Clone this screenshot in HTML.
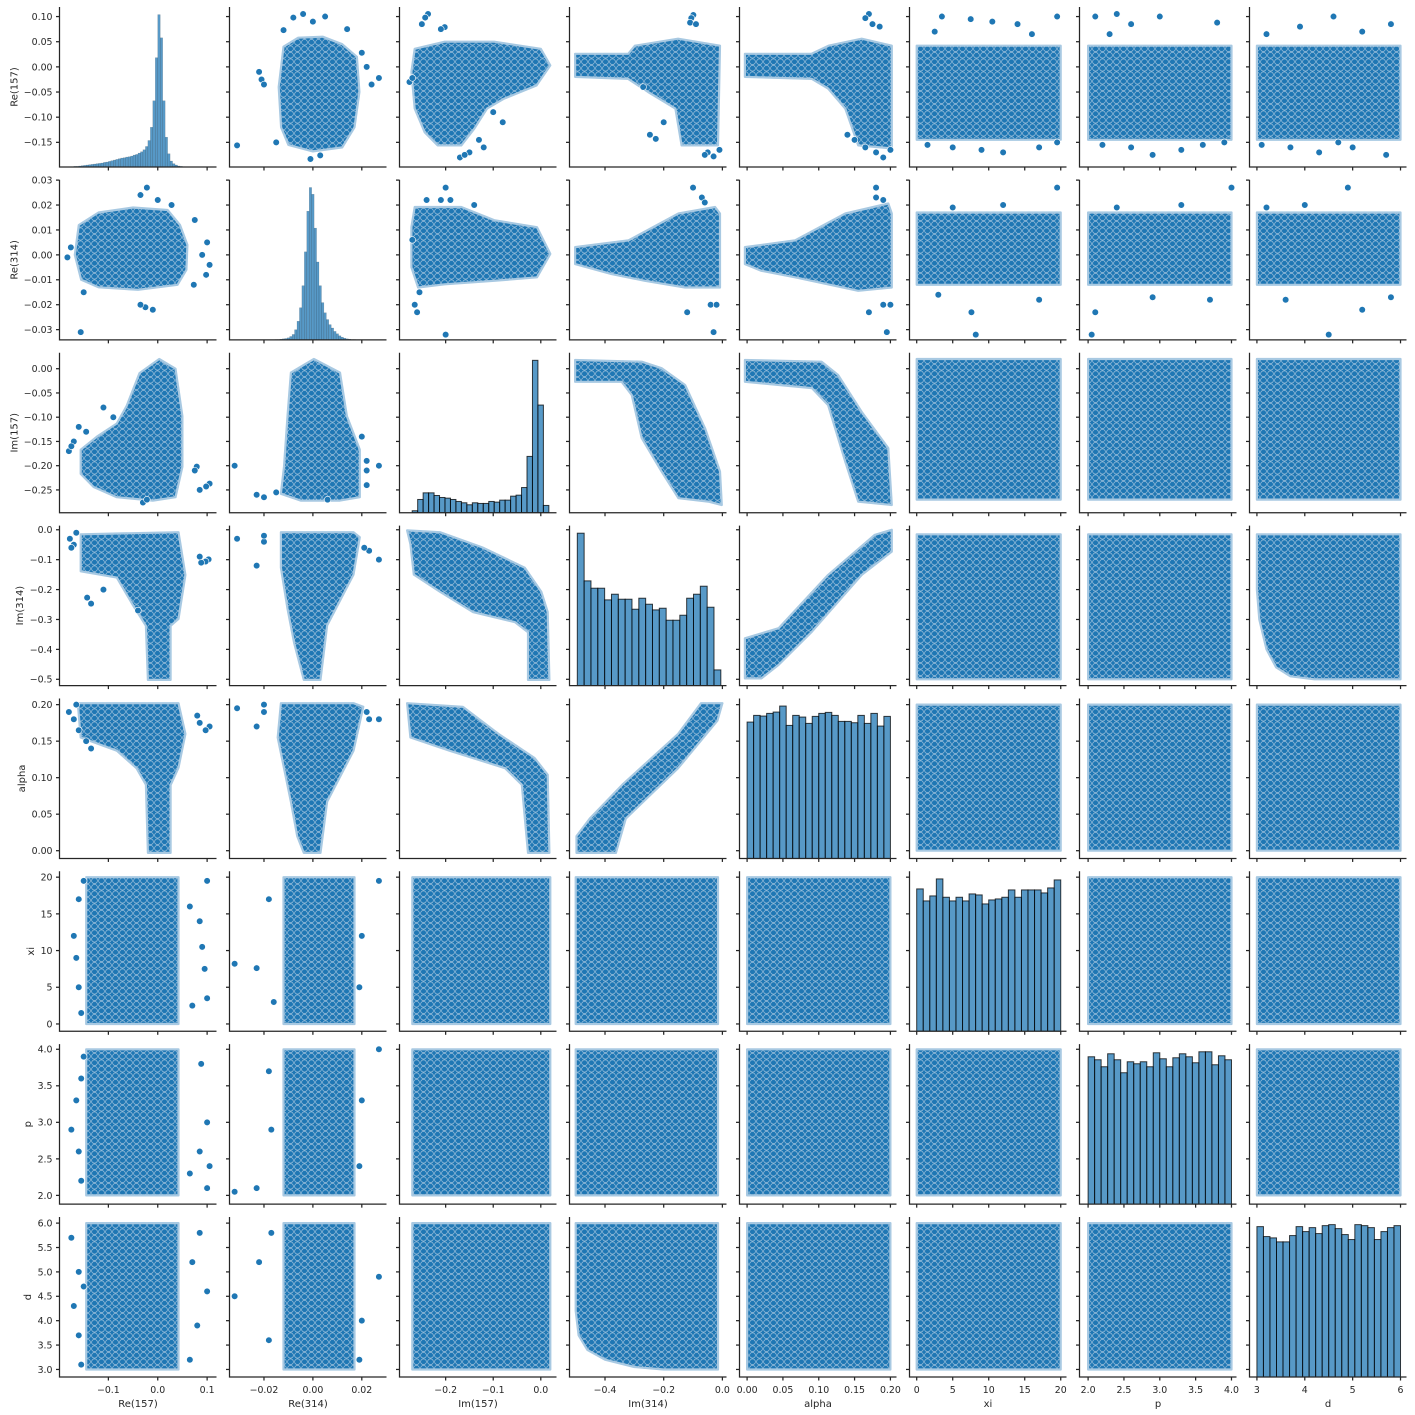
<!DOCTYPE html>
<html><head><meta charset="utf-8"><style>
html,body{margin:0;padding:0;background:#fff}
svg{display:block;font-family:"DejaVu Sans","Liberation Sans",sans-serif}
</style></head><body>
<svg id="fig" xmlns="http://www.w3.org/2000/svg" width="1415" height="1415" viewBox="0 0 1415 1415">
<defs>
<pattern id="dots" width="7" height="6.5" patternUnits="userSpaceOnUse">
<rect width="7" height="6.5" fill="#1f77b4"/>
<circle cx="3.5" cy="3.25" r="2.9" fill="#1f77b4" stroke="#9cc0dc" stroke-width="0.7"/>
</pattern>
</defs>
</svg>
<script>
// ---- data ----
const varNames = ['Re(157)','Re(314)','Im(157)','Im(314)','alpha','xi','p','d'];
const lims = [[-0.199,0.119],[-0.0341,0.0301],[-0.297,0.033],[-0.521,0.014],[-0.0106,0.2085],[-1.0,20.8],[1.88,4.07],[2.845,6.125]];
const bulk = [[-0.145,0.042],[-0.012,0.017],[-0.27,0.02],[-0.5,-0.015],[0,0.2],[0,20],[2,4],[3,6]];
const yTickVals = [[-0.15,-0.1,-0.05,0,0.05,0.1],[-0.03,-0.02,-0.01,0,0.01,0.02,0.03],[-0.25,-0.2,-0.15,-0.1,-0.05,0],[-0.5,-0.4,-0.3,-0.2,-0.1,0],[0,0.05,0.1,0.15,0.2],[0,5,10,15,20],[2,2.5,3,3.5,4],[3,3.5,4,4.5,5,5.5,6]];
const yTickLabels = [['−0.15','−0.10','−0.05','0.00','0.05','0.10'],['−0.03','−0.02','−0.01','0.00','0.01','0.02','0.03'],['−0.25','−0.20','−0.15','−0.10','−0.05','0.00'],['−0.5','−0.4','−0.3','−0.2','−0.1','0.0'],['0.00','0.05','0.10','0.15','0.20'],['0','5','10','15','20'],['2.0','2.5','3.0','3.5','4.0'],['3.0','3.5','4.0','4.5','5.0','5.5','6.0']];
const xTickVals = [[-0.1,0,0.1],[-0.02,0,0.02],[-0.2,-0.1,0],[-0.4,-0.2,0],[0,0.05,0.1,0.15,0.2],[0,5,10,15,20],[2,2.5,3,3.5,4],[3,4,5,6]];
const xTickLabels = [['−0.1','0.0','0.1'],['−0.02','0.00','0.02'],['−0.2','−0.1','0.0'],['−0.4','−0.2','0.0'],['0.00','0.05','0.10','0.15','0.20'],['0','5','10','15','20'],['2.0','2.5','3.0','3.5','4.0'],['3','4','5','6']];

// histogram bins: start, width, counts
const histStart = [-0.19,-0.0155,-0.2703,-0.4944,0,0,2,3];
const histWidth = [0.005,0.001,0.01149,0.02329,0.2/22,20/22,2/22,3/22];
const countsRe157 = [0,0,1,1,2,2,3,4,5,6,7,8,9,10,11,12,14,15,17,19,21,23,25,27,28,30,31,33,36,38,42,46,52,62,80,120,200,330,460,390,200,90,40,18,10,6,3,2,1,0];
const countsRe314 = [1,1,2,3,4,6,10,16,30,55,95,160,260,380,450,430,330,230,160,110,80,60,45,35,25,18,12,8,5,3,2,1,1];
const countsIm157 = [6,40,60,60,52,46,44,40,34,30,24,30,28,28,34,32,38,38,50,53,76,170,460,325,22];
const countsIm314 = [457,314,292,292,257,274,259,259,229,262,244,227,232,196,196,211,262,274,298,235,47];
const countsAlpha = [409,429,427,435,439,457,399,429,424,405,426,435,438,429,411,411,407,429,405,435,397,426];
const countsXi = [427,391,406,457,402,391,402,391,412,409,382,394,397,402,424,402,424,424,424,415,430,454];
const countsP = [443,434,413,452,434,395,428,422,428,413,455,437,413,440,452,443,425,458,458,419,446,434];
const countsD = [454,424,420,408,408,427,454,439,451,433,457,460,448,430,415,460,457,451,415,439,451,457];
const histCounts = [countsRe157,countsRe314,countsIm157,countsIm314,countsAlpha,countsXi,countsP,countsD];

// scatter envelopes (x = column var, y = row var), keyed by row-col for upper triangle
const env01 = [[-0.012,0.04],[-0.006,0.058],[0.004,0.06],[0.012,0.045],[0.018,0.02],[0.019,-0.05],[0.017,-0.12],[0.012,-0.16],[0.0,-0.168],[-0.01,-0.155],[-0.013,-0.12],[-0.014,-0.04]];
const env02 = [[-0.265,0.036],[-0.202,0.05],[-0.098,0.05],[0.0,0.036],[0.02,0.003],[-0.009,-0.037],[-0.077,-0.063],[-0.113,-0.083],[-0.14,-0.123],[-0.167,-0.156],[-0.217,-0.156],[-0.244,-0.13],[-0.265,-0.083],[-0.272,-0.01]];
const env03 = [[-0.502,0.026],[-0.321,0.026],[-0.298,0.042],[-0.151,0.056],[-0.008,0.042],[-0.015,-0.156],[-0.139,-0.156],[-0.16,-0.083],[-0.253,-0.05],[-0.321,-0.024],[-0.502,-0.02]];
const env04 = [[-0.003,0.026],[0.09,0.026],[0.1136,0.042],[0.16,0.056],[0.202,0.042],[0.202,-0.162],[0.155,-0.156],[0.137,-0.083],[0.113,-0.043],[0.0904,-0.024],[-0.003,-0.02]];
const env12 = [[-0.272,0.0111],[-0.265,0.0192],[-0.167,0.0192],[-0.098,0.0139],[-0.008,0.0111],[0.02,0.0004],[-0.008,-0.009],[-0.098,-0.0104],[-0.202,-0.0118],[-0.258,-0.0131],[-0.272,-0.005]];
const env13 = [[-0.502,0.0031],[-0.32,0.0058],[-0.15,0.0166],[-0.025,0.0192],[-0.008,0.0166],[-0.008,-0.0131],[-0.127,-0.0131],[-0.264,-0.0104],[-0.378,-0.0077],[-0.502,-0.0037]];
const env14 = [[-0.003,0.0031],[0.067,0.0058],[0.137,0.0166],[0.197,0.0206],[0.202,0.0166],[0.202,-0.0131],[0.155,-0.0144],[0.067,-0.009],[0.02,-0.0064],[-0.003,-0.0037]];
const env23 = [[-0.502,0.018],[-0.275,0.0145],[-0.207,0.001],[-0.127,-0.0336],[-0.059,-0.123],[-0.008,-0.212],[-0.002,-0.281],[-0.048,-0.274],[-0.15,-0.267],[-0.207,-0.212],[-0.275,-0.143],[-0.309,-0.054],[-0.343,-0.027],[-0.502,-0.027]];
const env24 = [[-0.003,0.018],[0.104,0.0145],[0.127,-0.013],[0.16,-0.089],[0.197,-0.164],[0.202,-0.281],[0.155,-0.274],[0.137,-0.192],[0.113,-0.075],[0.0904,-0.04],[-0.003,-0.027]];
const env34 = [[-0.003,-0.363],[0.044,-0.329],[0.113,-0.151],[0.178,-0.017],[0.202,0.0],[0.202,-0.073],[0.16,-0.151],[0.0904,-0.341],[0.044,-0.452],[0.02,-0.497],[-0.003,-0.497]];
const env37 = [[3,-0.015],[6,-0.015],[6,-0.5],[4.2,-0.5],[3.7,-0.49],[3.4,-0.46],[3.2,-0.4],[3.05,-0.3],[3,-0.2]];
const envelopes = {'0-1':env01,'0-2':env02,'0-3':env03,'0-4':env04,'1-2':env12,'1-3':env13,'1-4':env14,'2-3':env23,'2-4':env24,'3-4':env34,'3-7':env37};

// outlier points (x = column var, y = row var)
const out01 = [[-0.031,-0.156],[-0.022,-0.01],[-0.021,-0.025],[-0.02,-0.035],[-0.015,-0.15],[0.027,-0.022],[0.024,-0.035],[0.022,0.0],[0.02,0.028],[-0.008,0.098],[-0.004,0.105],[0.005,0.1],[-0.001,-0.183],[0.003,-0.176],[0.014,0.075],[-0.012,0.073],[0.0,0.09]];
const out02 = [[-0.237,0.105],[-0.243,0.098],[-0.25,0.085],[-0.202,0.079],[-0.21,0.075],[-0.276,-0.03],[-0.27,-0.022],[-0.17,-0.18],[-0.15,-0.17],[-0.12,-0.16],[-0.13,-0.145],[-0.16,-0.175],[-0.08,-0.11],[-0.1,-0.09]];
const out03 = [[-0.099,0.103],[-0.106,0.097],[-0.11,0.088],[-0.09,0.085],[-0.247,-0.135],[-0.227,-0.143],[-0.03,-0.178],[-0.05,-0.17],[-0.06,-0.175],[-0.01,-0.165],[-0.2,-0.11],[-0.27,-0.04]];
const out04 = [[0.17,0.105],[0.165,0.097],[0.175,0.085],[0.185,0.08],[0.14,-0.135],[0.15,-0.145],[0.19,-0.18],[0.18,-0.17],[0.2,-0.165],[0.165,-0.16]];
const out05 = [[3.5,0.1],[7.5,0.095],[10.5,0.09],[14,0.085],[19.5,0.1],[1.5,-0.155],[5,-0.16],[9,-0.165],[12,-0.17],[17,-0.16],[19.5,-0.15],[2.5,0.07],[16,0.065]];
const out06 = [[2.1,0.1],[2.4,0.105],[2.6,0.085],[3.0,0.1],[3.8,0.088],[2.2,-0.155],[2.6,-0.16],[2.9,-0.175],[3.6,-0.155],[3.9,-0.15],[3.3,-0.165],[2.3,0.065]];
const out07 = [[3.2,0.065],[3.9,0.08],[4.6,0.1],[5.2,0.07],[5.8,0.085],[3.1,-0.155],[3.7,-0.16],[4.3,-0.17],[5.0,-0.16],[5.7,-0.175],[4.7,-0.15]];
const out12 = [[-0.2,0.027],[-0.21,0.022],[-0.24,0.022],[-0.19,0.022],[-0.14,0.02],[-0.27,0.006],[-0.265,-0.02],[-0.2,-0.032],[-0.26,-0.023],[-0.255,-0.015]];
const out13 = [[-0.1,0.027],[-0.07,0.023],[-0.06,0.021],[-0.12,-0.023],[-0.03,-0.031],[-0.04,-0.02],[-0.02,-0.02]];
const out14 = [[0.18,0.027],[0.18,0.023],[0.19,0.022],[0.17,-0.023],[0.195,-0.031],[0.2,-0.02],[0.19,-0.02]];
const out15 = [[8.2,-0.032],[7.6,-0.023],[19.5,0.027],[12,0.02],[3,-0.016],[17,-0.018],[5,0.019]];
const out16 = [[2.05,-0.032],[2.1,-0.023],[4.0,0.027],[3.3,0.02],[2.9,-0.017],[3.7,-0.018],[2.4,0.019]];
const out17 = [[4.5,-0.032],[5.2,-0.022],[4.9,0.027],[4.0,0.02],[3.6,-0.018],[5.8,-0.017],[3.2,0.019]];
const outliers = {'0-1':out01,'0-2':out02,'0-3':out03,'0-4':out04,'0-5':out05,'0-6':out06,'0-7':out07,'1-2':out12,'1-3':out13,'1-4':out14,'1-5':out15,'1-6':out16,'1-7':out17};

// ---- layout ----
const NS = 'http://www.w3.org/2000/svg';
const svg = document.getElementById('fig');
const W = 157, H = 160;
function colLeft(j){ return 59.5 + j*170; }
function rowTop(i){ return 7 + i*172.86; }
function xScale(j, v){ const l = lims[j]; return colLeft(j) + (v - l[0])/(l[1]-l[0])*W; }
function yScale(i, v){ const l = lims[i]; return rowTop(i) + H - (v - l[0])/(l[1]-l[0])*H; }
function mk(tag, attrs, parent){
  const e = document.createElementNS(NS, tag);
  for (const k in attrs) e.setAttribute(k, attrs[k]);
  (parent||svg).appendChild(e);
  return e;
}
const AX = '#262626';

for (let i = 0; i < 8; i++) {
  for (let j = 0; j < 8; j++) {
    const g = mk('g', {});
    
    
    const cp = mk('clipPath', {id: 'c'+i+'-'+j}, g);
    mk('rect', {x: colLeft(j), y: rowTop(i), width: W, height: H}, cp);
    const plot = mk('g', {'clip-path': 'url(#c'+i+'-'+j+')'}, g);
    if (i === j) {
      const counts = histCounts[i];
      const maxC = Math.max(...counts);
      const thin = counts.length > 30;
      counts.forEach((c, k) => {
        const x0 = xScale(j, histStart[i] + k*histWidth[i]);
        const x1 = xScale(j, histStart[i] + (k+1)*histWidth[i]);
        const h = c/maxC * H/1.05;
        const r = mk('rect', {x: x0, y: rowTop(i)+H-h, width: Math.max(0, x1-x0), height: h,
          fill: 'rgba(31,119,180,0.75)', stroke: thin ? 'rgba(0,0,0,0.25)' : 'rgba(0,0,0,0.75)', 'stroke-width': thin ? 0.4 : 1}, plot);
        
        
      });
    } else {
      const a = Math.min(i,j), b = Math.max(i,j);
      const key = a + '-' + b;
      let pts = envelopes[key];
      if (!pts) pts = [[bulk[b][0],bulk[a][0]],[bulk[b][1],bulk[a][0]],[bulk[b][1],bulk[a][1]],[bulk[b][0],bulk[a][1]]];
      const swap = i > j;
      const pstr = pts.map(p => {
        const xv = swap ? p[1] : p[0], yv = swap ? p[0] : p[1];
        return xScale(j, xv).toFixed(1) + ',' + yScale(i, yv).toFixed(1);
      }).join(' ');
      const poly = mk('polygon', {points: pstr, fill: 'url(#dots)', stroke: '#a8c9e2', 'stroke-width': 2.2, 'stroke-linejoin': 'round'}, plot);
      
      
      const outs = outliers[key] || [];
      outs.forEach(p => {
        const xv = swap ? p[1] : p[0], yv = swap ? p[0] : p[1];
        const c = mk('circle', {cx: xScale(j, xv), cy: yScale(i, yv), r: 3.3, fill: '#1f77b4', stroke: '#ffffff', 'stroke-width': 0.6}, plot);
        
        
      });
    }
    const L = colLeft(j), T = rowTop(i), B = T + H;
    const sp = mk('path', {d: 'M'+L+','+T+'V'+B+'H'+(L+W), fill: 'none', stroke: AX, 'stroke-width': 1.25}, g);
    
    
    yTickVals[i].forEach((v, k) => {
      const y = yScale(i, v);
      mk('line', {x1: L, x2: L-3.5, y1: y, y2: y, stroke: AX, 'stroke-width': 1.25}, g);
      if (j === 0) {
        const t = mk('text', {x: L-7, y: y+3.4, 'text-anchor': 'end', 'font-size': 9.4, fill: AX}, g);
        t.textContent = yTickLabels[i][k];
        
        
      }
    });
    xTickVals[j].forEach((v, k) => {
      const x = xScale(j, v);
      mk('line', {x1: x, x2: x, y1: B, y2: B+3.5, stroke: AX, 'stroke-width': 1.25}, g);
      if (i === 7) {
        const t = mk('text', {x: x, y: B+16, 'text-anchor': 'middle', 'font-size': 9.4, fill: AX}, g);
        t.textContent = xTickLabels[j][k];
        
        
      }
    });
  }
}
for (let j = 0; j < 8; j++) {
  const t = mk('text', {x: colLeft(j)+W/2, y: 1407, 'text-anchor': 'middle', 'font-size': 10, fill: AX});
  t.textContent = varNames[j];
  
  
}
for (let i = 0; i < 8; i++) {
  let maxW = 0;
  const tmp = mk('text', {'font-size': 9.4, x: 0, y: -50});
  yTickLabels[i].forEach(s => { tmp.textContent = s; maxW = Math.max(maxW, tmp.getComputedTextLength()); });
  svg.removeChild(tmp);
  const bx = colLeft(0) - 7 - maxW - 4 - 2.5;
  const cy = rowTop(i) + H/2;
  const t = mk('text', {x: bx, y: cy, 'text-anchor': 'middle', 'font-size': 10, fill: AX, transform: 'rotate(-90 '+bx+' '+cy+')'});
  t.textContent = varNames[i];
  
  
}
</script>
</body></html>
